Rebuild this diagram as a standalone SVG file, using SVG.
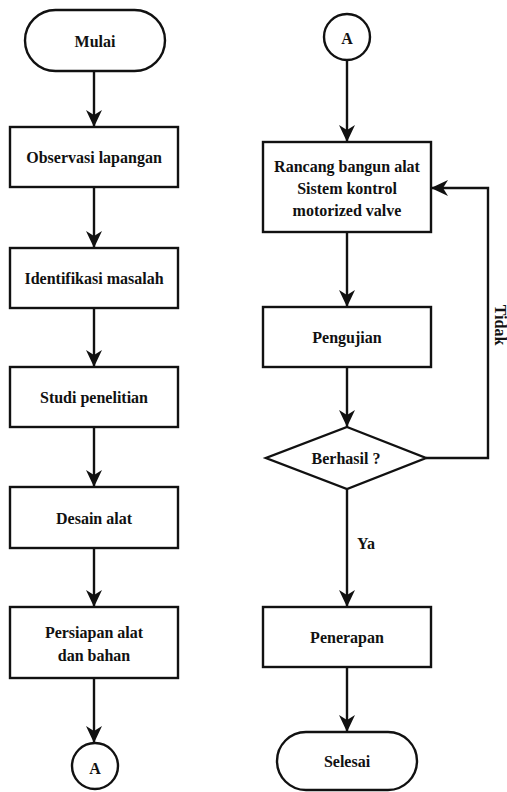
<svg xmlns="http://www.w3.org/2000/svg" width="507" height="792" viewBox="0 0 507 792">
<style>
.s{fill:#fff;stroke:#111;stroke-width:2.4}
.t{font-family:'Liberation Serif',Tinos,'Times New Roman',serif;font-weight:700;font-size:16px;fill:#111;text-anchor:middle;dominant-baseline:central}
.c{fill:none;stroke:#111;stroke-width:2.4}
</style>
<defs>
<marker id="ah" markerUnits="userSpaceOnUse" markerWidth="18" markerHeight="16" refX="17" refY="8" orient="auto">
<path d="M0,0 L17,8 L0,16 L5,8 z" fill="#111"/>
</marker>
</defs>
<rect width="507" height="792" fill="#fff"/>
<g id="connectors">
<line class="c" x1="94" y1="71" x2="94" y2="127" marker-end="url(#ah)"/>
<line class="c" x1="94" y1="187" x2="94" y2="248" marker-end="url(#ah)"/>
<line class="c" x1="94" y1="308" x2="94" y2="367" marker-end="url(#ah)"/>
<line class="c" x1="94" y1="427" x2="94" y2="487" marker-end="url(#ah)"/>
<line class="c" x1="94" y1="548" x2="94" y2="607" marker-end="url(#ah)"/>
<line class="c" x1="94" y1="678" x2="94" y2="743" marker-end="url(#ah)"/>
<line class="c" x1="347" y1="60" x2="347" y2="142" marker-end="url(#ah)"/>
<line class="c" x1="347" y1="232" x2="347" y2="307" marker-end="url(#ah)"/>
<line class="c" x1="347" y1="367" x2="347" y2="427" marker-end="url(#ah)"/>
<line class="c" x1="347" y1="489" x2="347" y2="607" marker-end="url(#ah)"/>
<line class="c" x1="347" y1="667" x2="347" y2="732" marker-end="url(#ah)"/>
<polyline class="c" points="426,458 488,458 488,188 431,188" marker-end="url(#ah)"/>
<text class="t" x="366" y="543">Ya</text>
<text class="t" transform="translate(500,325) rotate(90)">Tidak</text>
</g>
<g id="mulai"><rect class="s" x="25" y="10" width="140" height="61" rx="30.5"/><text class="t" x="95" y="41">Mulai</text></g>
<g id="observasi"><rect class="s" x="10" y="127" width="168" height="60"/><text class="t" x="94" y="157">Observasi lapangan</text></g>
<g id="identifikasi"><rect class="s" x="10" y="248" width="168" height="60"/><text class="t" x="94" y="278">Identifikasi masalah</text></g>
<g id="studi"><rect class="s" x="10" y="367" width="168" height="60"/><text class="t" x="94" y="397">Studi penelitian</text></g>
<g id="desain"><rect class="s" x="10" y="487" width="168" height="61"/><text class="t" x="94" y="518">Desain alat</text></g>
<g id="persiapan"><rect class="s" x="10" y="607" width="168" height="71"/><text class="t" x="94" y="632">Persiapan alat</text><text class="t" x="94" y="655">dan bahan</text></g>
<g id="a1"><circle class="s" cx="95" cy="766" r="23"/><text class="t" x="95" y="768">A</text></g>
<g id="a2"><circle class="s" cx="347" cy="37" r="23"/><text class="t" x="347" y="38">A</text></g>
<g id="rancang"><rect class="s" x="263" y="142" width="168" height="90"/><text class="t" x="347" y="166">Rancang bangun alat</text><text class="t" x="347" y="188">Sistem kontrol</text><text class="t" x="347" y="210">motorized valve</text></g>
<g id="pengujian"><rect class="s" x="263" y="307" width="168" height="60"/><text class="t" x="347" y="337">Pengujian</text></g>
<g id="berhasil"><polygon class="s" points="347,427 426,458 347,489 266,458"/><text class="t" x="346" y="458">Berhasil ?</text></g>
<g id="penerapan"><rect class="s" x="263" y="607" width="168" height="60"/><text class="t" x="347" y="637">Penerapan</text></g>
<g id="selesai"><rect class="s" x="277" y="732" width="140" height="58" rx="29"/><text class="t" x="347" y="761">Selesai</text></g>
</svg>
